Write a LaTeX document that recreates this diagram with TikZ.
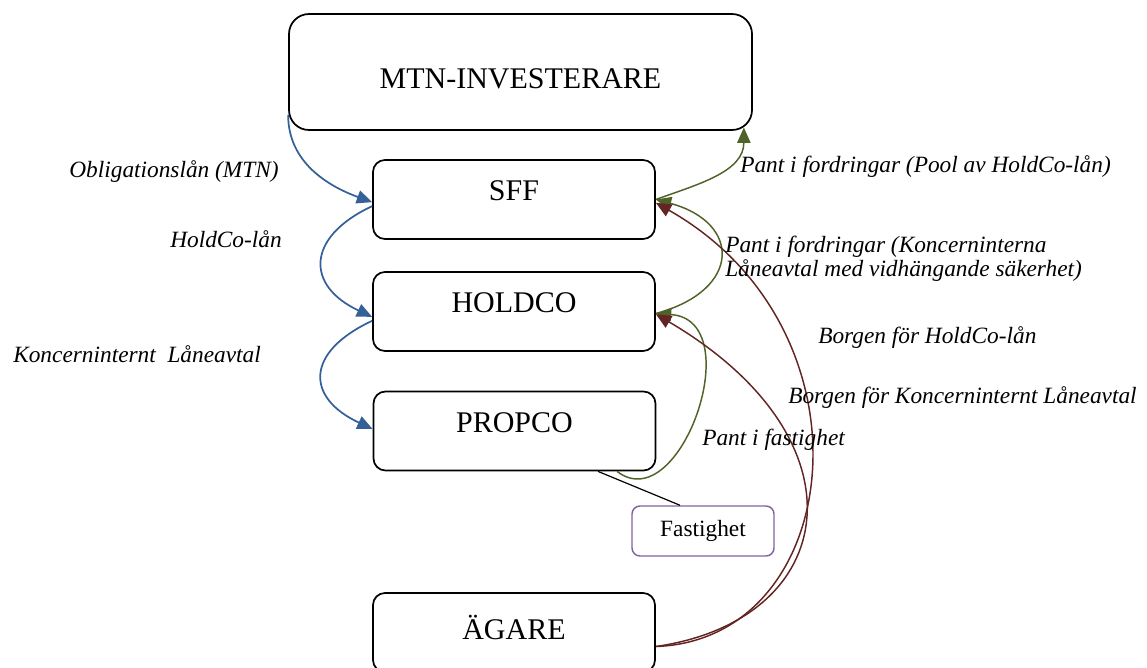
\documentclass[tikz,border=0pt]{standalone}
\usepackage{fontspec}
\setmainfont{Liberation Serif}
\usetikzlibrary{arrows.meta}
\definecolor{loanblue}{RGB}{52,97,152}
\definecolor{pantgreen}{RGB}{79,98,40}
\definecolor{borgenred}{RGB}{99,37,35}
\definecolor{fastpurple}{RGB}{128,100,162}

\begin{document}
\begin{tikzpicture}[x = 0.75pt, y = 0.75pt]
\tikzstyle{mybox} = [draw, line width = 1.3pt, rounded corners = 9pt, minimum width = 211.5pt, minimum height = 59.25pt, font = \fontsize{22.5pt}{27pt}\selectfont, text height = 17pt, text depth = 14.9pt]
\tikzstyle{mylabel} = [font = \fontsize{17.5pt}{18pt}\selectfont\itshape, inner sep = 0pt]
\tikzset{myarrow/.style = {line width = 1.3pt, -{Triangle[length = 11.5pt, width = 10pt]}}}
\useasboundingbox (0,0) rectangle (1147,-668);

\node [mybox, minimum width = 347.25pt, minimum height = 87pt, rounded corners = 15pt, text height = 26pt, text depth = 1.3pt] (mtn) at (520.5,-72) {MTN-INVESTERARE};
\node [mybox] (sff) at (514,-199.5) {SFF};
\node [mybox] (holdco) at (514,-311.5) {HOLDCO};
\node [mybox] (propco) at (514.5,-431) {PROPCO};
\node [mybox, text height = 17pt, text depth = 5.9pt] (agare) at (514,-632.5) {ÄGARE};
\node [draw = fastpurple, line width = 1.1pt, rounded corners = 6pt, minimum width = 106.5pt, minimum height = 37.5pt, font = \fontsize{17.5pt}{20pt}\selectfont] (fast) at (703,-531) {Fastighet};

\draw [line width = 0.9pt] ([xshift = 62.6pt]propco.south) -- ([xshift = -17.25pt]fast.north);

\draw [myarrow, loanblue] ([yshift = 12pt]mtn.south west) to [out = -90, in = 160] ([yshift = -2pt]sff.west);
\draw [myarrow, loanblue] ([yshift = -5pt]sff.west) to [out = 205, in = 155, looseness = 1.7] ([yshift = -4pt]holdco.west);
\draw [myarrow, loanblue] ([yshift = -7pt]holdco.west) to [out = 205, in = 155, looseness = 1.75] ([yshift = 1.5pt]propco.west);

\draw [myarrow, pantgreen, line width = 1.1pt] (sff.east) to [out = 20, in = -90] ([xshift = -6.75pt, yshift = 2.5pt]mtn.south east);
\draw [myarrow, pantgreen, line width = 1.1pt] ([yshift = -1.5pt]holdco.east) to [out = 15, in = -15, looseness = 2] (sff.east);
\draw [myarrow, pantgreen, line width = 1.1pt] ([xshift = 76.9pt]propco.south) .. controls (680,-520) and (750,-320) .. ([yshift = -1.5pt]holdco.east);

\draw [myarrow, borgenred, line width = 1.1pt] ([yshift = -10.5pt]agare.east) .. controls (845,-640) and (880,-330) .. ([yshift = -2.5pt]sff.east);
\draw [myarrow, borgenred, line width = 1.1pt] ([yshift = -10.5pt]agare.east) .. controls (840,-620) and (870,-440) .. ([yshift = -2pt]holdco.east);

\node [mylabel, anchor = base east] (oblig) at (279,-177) {Obligationslån (MTN)};
\node [mylabel, anchor = base east] (hclan) at (282,-247) {HoldCo-lån};
\node [mylabel, anchor = base west] (kilan) at (13,-362) {Koncerninternt\ \ Låneavtal};
\node [mylabel, anchor = base west] (pool) at (740,-172) {Pant i fordringar (Pool av HoldCo-lån)};
\node [mylabel, anchor = west, align = left] (kila) at (725,-259) {Pant i fordringar (Koncerninterna\\Låneavtal med vidhängande säkerhet)};
\node [mylabel, anchor = base west] (bhc) at (818,-343) {Borgen för HoldCo-lån};
\node [mylabel, anchor = base west] (bki) at (788,-403) {Borgen för Koncerninternt Låneavtal};
\node [mylabel, anchor = base west] (pfast) at (702,-445) {Pant i fastighet};
\end{tikzpicture}
\end{document}
